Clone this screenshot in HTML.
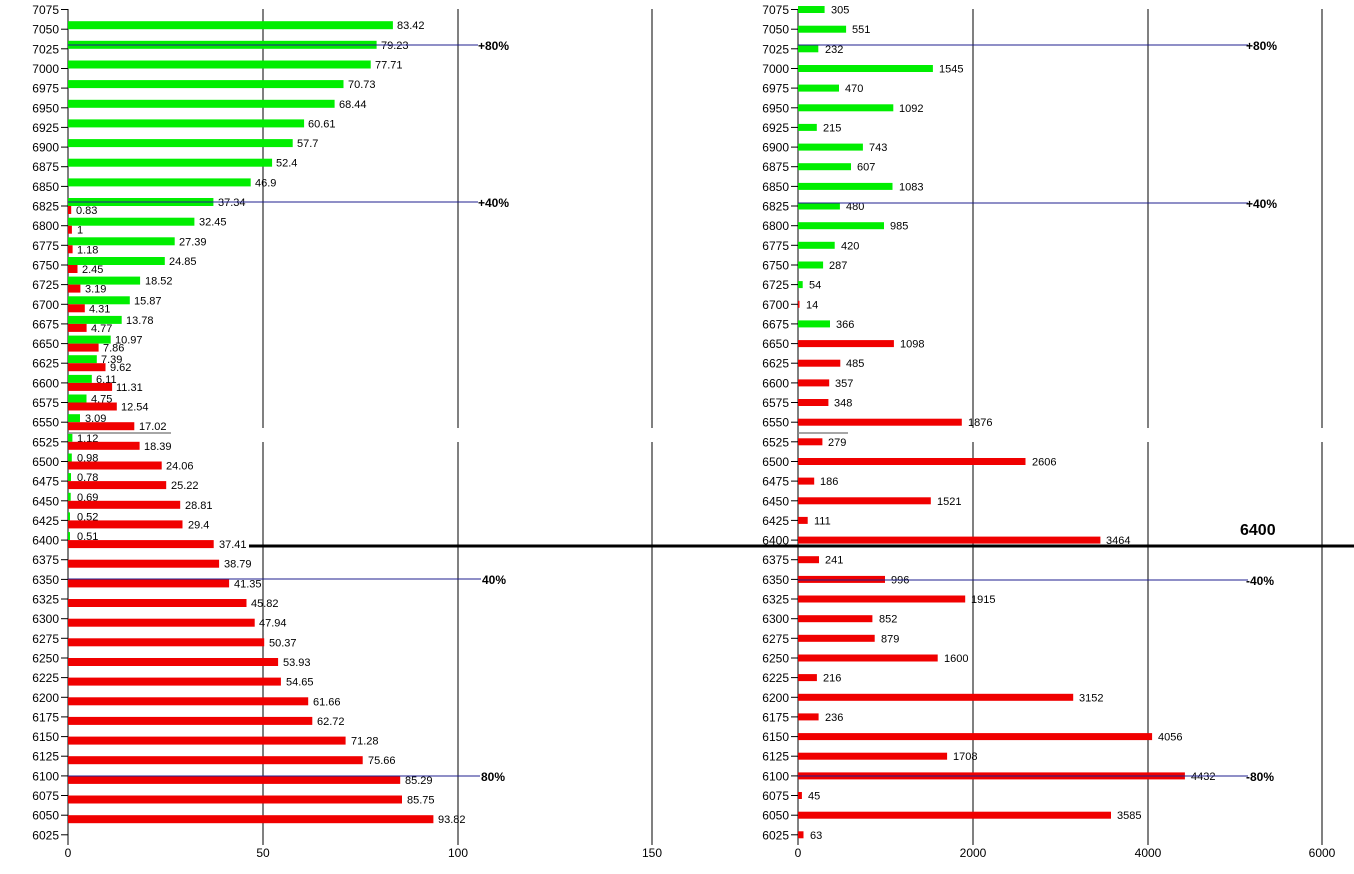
<!DOCTYPE html>
<html><head><meta charset="utf-8"><style>
html,body{margin:0;padding:0;background:#fff;}
svg{display:block;font-family:"Liberation Sans",sans-serif;}
.yl{font-size:12px;text-anchor:end;fill:#000;}
.v{font-size:11px;fill:#000;}
.g{fill:#00ee00;}
.r{fill:#f00000;}
.tk{stroke:#000;stroke-width:1;}
.pc{font-size:12px;font-weight:bold;fill:#000;}
</style></head><body>
<svg width="1354" height="874" viewBox="0 0 1354 874" xmlns="http://www.w3.org/2000/svg">
<rect width="1354" height="874" fill="#fff"/>
<!-- gridlines -->
<g stroke="#000" stroke-width="1">
<line x1="263" y1="9" x2="263" y2="428"/><line x1="263" y1="442" x2="263" y2="845"/>
<line x1="458" y1="9" x2="458" y2="428"/><line x1="458" y1="442" x2="458" y2="845"/>
<line x1="652" y1="9" x2="652" y2="428"/><line x1="652" y1="442" x2="652" y2="845"/>
<line x1="973" y1="9" x2="973" y2="428"/><line x1="973" y1="442" x2="973" y2="845"/>
<line x1="1148" y1="9" x2="1148" y2="428"/><line x1="1148" y1="442" x2="1148" y2="845"/>
<line x1="1322" y1="9" x2="1322" y2="428"/><line x1="1322" y1="442" x2="1322" y2="845"/>
<line x1="68" y1="9" x2="68" y2="845"/>
<line x1="798" y1="9" x2="798" y2="845"/>
</g>
<!-- x labels -->
<g font-size="12" text-anchor="middle" fill="#000">
<text x="68" y="857">0</text><text x="263" y="857">50</text><text x="458" y="857">100</text><text x="652" y="857">150</text>
<text x="798" y="857">0</text><text x="973" y="857">2000</text><text x="1148" y="857">4000</text><text x="1322" y="857">6000</text>
</g>

<!-- LEFT CHART -->
<g transform="translate(68,9.5)"><line class="tk" x1="-7" x2="0" y1="0" y2="0"/><text class="yl" x="-9" y="4.5">7075</text></g>
<g transform="translate(68,29.2)"><line class="tk" x1="-7" x2="0"/><text class="yl" x="-9" y="4.5">7050</text><rect class="g" y="-8" width="324.9" height="8"/><text class="v" x="329" y="0">83.42</text></g>
<g transform="translate(68,48.8)"><line class="tk" x1="-7" x2="0"/><text class="yl" x="-9" y="4.5">7025</text><rect class="g" y="-8" width="308.6" height="8"/><text class="v" x="313" y="0">79.23</text></g>
<g transform="translate(68,68.5)"><line class="tk" x1="-7" x2="0"/><text class="yl" x="-9" y="4.5">7000</text><rect class="g" y="-8" width="302.7" height="8"/><text class="v" x="307" y="0">77.71</text></g>
<g transform="translate(68,88.1)"><line class="tk" x1="-7" x2="0"/><text class="yl" x="-9" y="4.5">6975</text><rect class="g" y="-8" width="275.5" height="8"/><text class="v" x="280" y="0">70.73</text></g>
<g transform="translate(68,107.8)"><line class="tk" x1="-7" x2="0"/><text class="yl" x="-9" y="4.5">6950</text><rect class="g" y="-8" width="266.6" height="8"/><text class="v" x="271" y="0">68.44</text></g>
<g transform="translate(68,127.4)"><line class="tk" x1="-7" x2="0"/><text class="yl" x="-9" y="4.5">6925</text><rect class="g" y="-8" width="236.1" height="8"/><text class="v" x="240" y="0">60.61</text></g>
<g transform="translate(68,147.1)"><line class="tk" x1="-7" x2="0"/><text class="yl" x="-9" y="4.5">6900</text><rect class="g" y="-8" width="224.7" height="8"/><text class="v" x="229" y="0">57.7</text></g>
<g transform="translate(68,166.7)"><line class="tk" x1="-7" x2="0"/><text class="yl" x="-9" y="4.5">6875</text><rect class="g" y="-8" width="204.1" height="8"/><text class="v" x="208" y="0">52.4</text></g>
<g transform="translate(68,186.4)"><line class="tk" x1="-7" x2="0"/><text class="yl" x="-9" y="4.5">6850</text><rect class="g" y="-8" width="182.7" height="8"/><text class="v" x="187" y="0">46.9</text></g>
<g transform="translate(68,206.0)"><line class="tk" x1="-7" x2="0"/><text class="yl" x="-9" y="4.5">6825</text><rect class="g" y="-8" width="145.4" height="8"/><text class="v" x="150" y="0">37.34</text><rect class="r" y="0" width="3.2" height="8"/><text class="v" x="8" y="8">0.83</text></g>
<g transform="translate(68,225.7)"><line class="tk" x1="-7" x2="0"/><text class="yl" x="-9" y="4.5">6800</text><rect class="g" y="-8" width="126.4" height="8"/><text class="v" x="131" y="0">32.45</text><rect class="r" y="0" width="3.9" height="8"/><text class="v" x="9" y="8">1</text></g>
<g transform="translate(68,245.3)"><line class="tk" x1="-7" x2="0"/><text class="yl" x="-9" y="4.5">6775</text><rect class="g" y="-8" width="106.7" height="8"/><text class="v" x="111" y="0">27.39</text><rect class="r" y="0" width="4.6" height="8"/><text class="v" x="9" y="8">1.18</text></g>
<g transform="translate(68,265.0)"><line class="tk" x1="-7" x2="0"/><text class="yl" x="-9" y="4.5">6750</text><rect class="g" y="-8" width="96.8" height="8"/><text class="v" x="101" y="0">24.85</text><rect class="r" y="0" width="9.5" height="8"/><text class="v" x="14" y="8">2.45</text></g>
<g transform="translate(68,284.6)"><line class="tk" x1="-7" x2="0"/><text class="yl" x="-9" y="4.5">6725</text><rect class="g" y="-8" width="72.1" height="8"/><text class="v" x="77" y="0">18.52</text><rect class="r" y="0" width="12.4" height="8"/><text class="v" x="17" y="8">3.19</text></g>
<g transform="translate(68,304.3)"><line class="tk" x1="-7" x2="0"/><text class="yl" x="-9" y="4.5">6700</text><rect class="g" y="-8" width="61.8" height="8"/><text class="v" x="66" y="0">15.87</text><rect class="r" y="0" width="16.8" height="8"/><text class="v" x="21" y="8">4.31</text></g>
<g transform="translate(68,323.9)"><line class="tk" x1="-7" x2="0"/><text class="yl" x="-9" y="4.5">6675</text><rect class="g" y="-8" width="53.7" height="8"/><text class="v" x="58" y="0">13.78</text><rect class="r" y="0" width="18.6" height="8"/><text class="v" x="23" y="8">4.77</text></g>
<g transform="translate(68,343.6)"><line class="tk" x1="-7" x2="0"/><text class="yl" x="-9" y="4.5">6650</text><rect class="g" y="-8" width="42.7" height="8"/><text class="v" x="47" y="0">10.97</text><rect class="r" y="0" width="30.6" height="8"/><text class="v" x="35" y="8">7.86</text></g>
<g transform="translate(68,363.2)"><line class="tk" x1="-7" x2="0"/><text class="yl" x="-9" y="4.5">6625</text><rect class="g" y="-8" width="28.8" height="8"/><text class="v" x="33" y="0">7.39</text><rect class="r" y="0" width="37.5" height="8"/><text class="v" x="42" y="8">9.62</text></g>
<g transform="translate(68,382.9)"><line class="tk" x1="-7" x2="0"/><text class="yl" x="-9" y="4.5">6600</text><rect class="g" y="-8" width="23.8" height="8"/><text class="v" x="28" y="0">6.11</text><rect class="r" y="0" width="44.1" height="8"/><text class="v" x="48" y="8">11.31</text></g>
<g transform="translate(68,402.5)"><line class="tk" x1="-7" x2="0"/><text class="yl" x="-9" y="4.5">6575</text><rect class="g" y="-8" width="18.5" height="8"/><text class="v" x="23" y="0">4.75</text><rect class="r" y="0" width="48.8" height="8"/><text class="v" x="53" y="8">12.54</text></g>
<g transform="translate(68,422.2)"><line class="tk" x1="-7" x2="0"/><text class="yl" x="-9" y="4.5">6550</text><rect class="g" y="-8" width="12.0" height="8"/><text class="v" x="17" y="0">3.09</text><rect class="r" y="0" width="66.3" height="8"/><text class="v" x="71" y="8">17.02</text></g>
<g transform="translate(68,441.8)"><line class="tk" x1="-7" x2="0"/><text class="yl" x="-9" y="4.5">6525</text><rect class="g" y="-8" width="4.4" height="8"/><text class="v" x="9" y="0">1.12</text><rect class="r" y="0" width="71.6" height="8"/><text class="v" x="76" y="8">18.39</text></g>
<g transform="translate(68,461.5)"><line class="tk" x1="-7" x2="0"/><text class="yl" x="-9" y="4.5">6500</text><rect class="g" y="-8" width="3.8" height="8"/><text class="v" x="9" y="0">0.98</text><rect class="r" y="0" width="93.7" height="8"/><text class="v" x="98" y="8">24.06</text></g>
<g transform="translate(68,481.1)"><line class="tk" x1="-7" x2="0"/><text class="yl" x="-9" y="4.5">6475</text><rect class="g" y="-8" width="3.0" height="8"/><text class="v" x="9" y="0">0.78</text><rect class="r" y="0" width="98.2" height="8"/><text class="v" x="103" y="8">25.22</text></g>
<g transform="translate(68,500.8)"><line class="tk" x1="-7" x2="0"/><text class="yl" x="-9" y="4.5">6450</text><rect class="g" y="-8" width="2.7" height="8"/><text class="v" x="9" y="0">0.69</text><rect class="r" y="0" width="112.2" height="8"/><text class="v" x="117" y="8">28.81</text></g>
<g transform="translate(68,520.4)"><line class="tk" x1="-7" x2="0"/><text class="yl" x="-9" y="4.5">6425</text><rect class="g" y="-8" width="2.0" height="8"/><text class="v" x="9" y="0">0.52</text><rect class="r" y="0" width="114.5" height="8"/><text class="v" x="120" y="8">29.4</text></g>
<g transform="translate(68,540.1)"><line class="tk" x1="-7" x2="0"/><text class="yl" x="-9" y="4.5">6400</text><rect class="g" y="-8" width="2.0" height="8"/><text class="v" x="9" y="0">0.51</text><rect class="r" y="0" width="145.7" height="8"/><text class="v" x="151" y="8">37.41</text></g>
<g transform="translate(68,559.7)"><line class="tk" x1="-7" x2="0"/><text class="yl" x="-9" y="4.5">6375</text><rect class="r" y="0" width="151.1" height="8"/><text class="v" x="156" y="8">38.79</text></g>
<g transform="translate(68,579.4)"><line class="tk" x1="-7" x2="0"/><text class="yl" x="-9" y="4.5">6350</text><rect class="r" y="0" width="161.1" height="8"/><text class="v" x="166" y="8">41.35</text></g>
<g transform="translate(68,599.0)"><line class="tk" x1="-7" x2="0"/><text class="yl" x="-9" y="4.5">6325</text><rect class="r" y="0" width="178.5" height="8"/><text class="v" x="183" y="8">45.82</text></g>
<g transform="translate(68,618.7)"><line class="tk" x1="-7" x2="0"/><text class="yl" x="-9" y="4.5">6300</text><rect class="r" y="0" width="186.7" height="8"/><text class="v" x="191" y="8">47.94</text></g>
<g transform="translate(68,638.3)"><line class="tk" x1="-7" x2="0"/><text class="yl" x="-9" y="4.5">6275</text><rect class="r" y="0" width="196.2" height="8"/><text class="v" x="201" y="8">50.37</text></g>
<g transform="translate(68,658.0)"><line class="tk" x1="-7" x2="0"/><text class="yl" x="-9" y="4.5">6250</text><rect class="r" y="0" width="210.1" height="8"/><text class="v" x="215" y="8">53.93</text></g>
<g transform="translate(68,677.6)"><line class="tk" x1="-7" x2="0"/><text class="yl" x="-9" y="4.5">6225</text><rect class="r" y="0" width="212.9" height="8"/><text class="v" x="218" y="8">54.65</text></g>
<g transform="translate(68,697.3)"><line class="tk" x1="-7" x2="0"/><text class="yl" x="-9" y="4.5">6200</text><rect class="r" y="0" width="240.2" height="8"/><text class="v" x="245" y="8">61.66</text></g>
<g transform="translate(68,716.9)"><line class="tk" x1="-7" x2="0"/><text class="yl" x="-9" y="4.5">6175</text><rect class="r" y="0" width="244.3" height="8"/><text class="v" x="249" y="8">62.72</text></g>
<g transform="translate(68,736.6)"><line class="tk" x1="-7" x2="0"/><text class="yl" x="-9" y="4.5">6150</text><rect class="r" y="0" width="277.6" height="8"/><text class="v" x="283" y="8">71.28</text></g>
<g transform="translate(68,756.2)"><line class="tk" x1="-7" x2="0"/><text class="yl" x="-9" y="4.5">6125</text><rect class="r" y="0" width="294.7" height="8"/><text class="v" x="300" y="8">75.66</text></g>
<g transform="translate(68,775.9)"><line class="tk" x1="-7" x2="0"/><text class="yl" x="-9" y="4.5">6100</text><rect class="r" y="0" width="332.2" height="8"/><text class="v" x="337" y="8">85.29</text></g>
<g transform="translate(68,795.5)"><line class="tk" x1="-7" x2="0"/><text class="yl" x="-9" y="4.5">6075</text><rect class="r" y="0" width="334.0" height="8"/><text class="v" x="339" y="8">85.75</text></g>
<g transform="translate(68,815.2)"><line class="tk" x1="-7" x2="0"/><text class="yl" x="-9" y="4.5">6050</text><rect class="r" y="0" width="365.4" height="8"/><text class="v" x="370" y="8">93.82</text></g>
<g transform="translate(68,834.8)"><line class="tk" x1="-7" x2="0"/><text class="yl" x="-9" y="4.5">6025</text></g>

<!-- RIGHT CHART -->
<g transform="translate(798,9.5)"><line class="tk" x1="-7" x2="0"/><text class="yl" x="-9" y="4.5">7075</text><rect class="g" y="-3.5" width="26.6" height="7"/><text class="v" x="33" y="4">305</text></g>
<g transform="translate(798,29.2)"><line class="tk" x1="-7" x2="0"/><text class="yl" x="-9" y="4.5">7050</text><rect class="g" y="-3.5" width="48.1" height="7"/><text class="v" x="54" y="4">551</text></g>
<g transform="translate(798,48.8)"><line class="tk" x1="-7" x2="0"/><text class="yl" x="-9" y="4.5">7025</text><rect class="g" y="-3.5" width="20.3" height="7"/><text class="v" x="27" y="4">232</text></g>
<g transform="translate(798,68.5)"><line class="tk" x1="-7" x2="0"/><text class="yl" x="-9" y="4.5">7000</text><rect class="g" y="-3.5" width="134.9" height="7"/><text class="v" x="141" y="4">1545</text></g>
<g transform="translate(798,88.1)"><line class="tk" x1="-7" x2="0"/><text class="yl" x="-9" y="4.5">6975</text><rect class="g" y="-3.5" width="41.0" height="7"/><text class="v" x="47" y="4">470</text></g>
<g transform="translate(798,107.8)"><line class="tk" x1="-7" x2="0"/><text class="yl" x="-9" y="4.5">6950</text><rect class="g" y="-3.5" width="95.3" height="7"/><text class="v" x="101" y="4">1092</text></g>
<g transform="translate(798,127.4)"><line class="tk" x1="-7" x2="0"/><text class="yl" x="-9" y="4.5">6925</text><rect class="g" y="-3.5" width="18.8" height="7"/><text class="v" x="25" y="4">215</text></g>
<g transform="translate(798,147.1)"><line class="tk" x1="-7" x2="0"/><text class="yl" x="-9" y="4.5">6900</text><rect class="g" y="-3.5" width="64.9" height="7"/><text class="v" x="71" y="4">743</text></g>
<g transform="translate(798,166.7)"><line class="tk" x1="-7" x2="0"/><text class="yl" x="-9" y="4.5">6875</text><rect class="g" y="-3.5" width="53.0" height="7"/><text class="v" x="59" y="4">607</text></g>
<g transform="translate(798,186.4)"><line class="tk" x1="-7" x2="0"/><text class="yl" x="-9" y="4.5">6850</text><rect class="g" y="-3.5" width="94.5" height="7"/><text class="v" x="101" y="4">1083</text></g>
<g transform="translate(798,206.0)"><line class="tk" x1="-7" x2="0"/><text class="yl" x="-9" y="4.5">6825</text><rect class="g" y="-3.5" width="41.9" height="7"/><text class="v" x="48" y="4">480</text></g>
<g transform="translate(798,225.7)"><line class="tk" x1="-7" x2="0"/><text class="yl" x="-9" y="4.5">6800</text><rect class="g" y="-3.5" width="86.0" height="7"/><text class="v" x="92" y="4">985</text></g>
<g transform="translate(798,245.3)"><line class="tk" x1="-7" x2="0"/><text class="yl" x="-9" y="4.5">6775</text><rect class="g" y="-3.5" width="36.7" height="7"/><text class="v" x="43" y="4">420</text></g>
<g transform="translate(798,265.0)"><line class="tk" x1="-7" x2="0"/><text class="yl" x="-9" y="4.5">6750</text><rect class="g" y="-3.5" width="25.1" height="7"/><text class="v" x="31" y="4">287</text></g>
<g transform="translate(798,284.6)"><line class="tk" x1="-7" x2="0"/><text class="yl" x="-9" y="4.5">6725</text><rect class="g" y="-3.5" width="4.7" height="7"/><text class="v" x="11" y="4">54</text></g>
<g transform="translate(798,304.3)"><line class="tk" x1="-7" x2="0"/><text class="yl" x="-9" y="4.5">6700</text><rect class="r" y="-3.5" width="1.5" height="7"/><text class="v" x="8" y="4">14</text></g>
<g transform="translate(798,323.9)"><line class="tk" x1="-7" x2="0"/><text class="yl" x="-9" y="4.5">6675</text><rect class="g" y="-3.5" width="32.0" height="7"/><text class="v" x="38" y="4">366</text></g>
<g transform="translate(798,343.6)"><line class="tk" x1="-7" x2="0"/><text class="yl" x="-9" y="4.5">6650</text><rect class="r" y="-3.5" width="95.9" height="7"/><text class="v" x="102" y="4">1098</text></g>
<g transform="translate(798,363.2)"><line class="tk" x1="-7" x2="0"/><text class="yl" x="-9" y="4.5">6625</text><rect class="r" y="-3.5" width="42.3" height="7"/><text class="v" x="48" y="4">485</text></g>
<g transform="translate(798,382.9)"><line class="tk" x1="-7" x2="0"/><text class="yl" x="-9" y="4.5">6600</text><rect class="r" y="-3.5" width="31.2" height="7"/><text class="v" x="37" y="4">357</text></g>
<g transform="translate(798,402.5)"><line class="tk" x1="-7" x2="0"/><text class="yl" x="-9" y="4.5">6575</text><rect class="r" y="-3.5" width="30.4" height="7"/><text class="v" x="36" y="4">348</text></g>
<g transform="translate(798,422.2)"><line class="tk" x1="-7" x2="0"/><text class="yl" x="-9" y="4.5">6550</text><rect class="r" y="-3.5" width="163.8" height="7"/><text class="v" x="170" y="4">1876</text></g>
<g transform="translate(798,441.8)"><line class="tk" x1="-7" x2="0"/><text class="yl" x="-9" y="4.5">6525</text><rect class="r" y="-3.5" width="24.4" height="7"/><text class="v" x="30" y="4">279</text></g>
<g transform="translate(798,461.5)"><line class="tk" x1="-7" x2="0"/><text class="yl" x="-9" y="4.5">6500</text><rect class="r" y="-3.5" width="227.5" height="7"/><text class="v" x="234" y="4">2606</text></g>
<g transform="translate(798,481.1)"><line class="tk" x1="-7" x2="0"/><text class="yl" x="-9" y="4.5">6475</text><rect class="r" y="-3.5" width="16.2" height="7"/><text class="v" x="22" y="4">186</text></g>
<g transform="translate(798,500.8)"><line class="tk" x1="-7" x2="0"/><text class="yl" x="-9" y="4.5">6450</text><rect class="r" y="-3.5" width="132.8" height="7"/><text class="v" x="139" y="4">1521</text></g>
<g transform="translate(798,520.4)"><line class="tk" x1="-7" x2="0"/><text class="yl" x="-9" y="4.5">6425</text><rect class="r" y="-3.5" width="9.7" height="7"/><text class="v" x="16" y="4">111</text></g>
<g transform="translate(798,540.1)"><line class="tk" x1="-7" x2="0"/><text class="yl" x="-9" y="4.5">6400</text><rect class="r" y="-3.5" width="302.4" height="7"/><text class="v" x="308" y="4">3464</text></g>
<g transform="translate(798,559.7)"><line class="tk" x1="-7" x2="0"/><text class="yl" x="-9" y="4.5">6375</text><rect class="r" y="-3.5" width="21.0" height="7"/><text class="v" x="27" y="4">241</text></g>
<g transform="translate(798,579.4)"><line class="tk" x1="-7" x2="0"/><text class="yl" x="-9" y="4.5">6350</text><rect class="r" y="-3.5" width="87.0" height="7"/><text class="v" x="93" y="4">996</text></g>
<g transform="translate(798,599.0)"><line class="tk" x1="-7" x2="0"/><text class="yl" x="-9" y="4.5">6325</text><rect class="r" y="-3.5" width="167.2" height="7"/><text class="v" x="173" y="4">1915</text></g>
<g transform="translate(798,618.7)"><line class="tk" x1="-7" x2="0"/><text class="yl" x="-9" y="4.5">6300</text><rect class="r" y="-3.5" width="74.4" height="7"/><text class="v" x="81" y="4">852</text></g>
<g transform="translate(798,638.3)"><line class="tk" x1="-7" x2="0"/><text class="yl" x="-9" y="4.5">6275</text><rect class="r" y="-3.5" width="76.7" height="7"/><text class="v" x="83" y="4">879</text></g>
<g transform="translate(798,658.0)"><line class="tk" x1="-7" x2="0"/><text class="yl" x="-9" y="4.5">6250</text><rect class="r" y="-3.5" width="139.7" height="7"/><text class="v" x="146" y="4">1600</text></g>
<g transform="translate(798,677.6)"><line class="tk" x1="-7" x2="0"/><text class="yl" x="-9" y="4.5">6225</text><rect class="r" y="-3.5" width="18.9" height="7"/><text class="v" x="25" y="4">216</text></g>
<g transform="translate(798,697.3)"><line class="tk" x1="-7" x2="0"/><text class="yl" x="-9" y="4.5">6200</text><rect class="r" y="-3.5" width="275.2" height="7"/><text class="v" x="281" y="4">3152</text></g>
<g transform="translate(798,716.9)"><line class="tk" x1="-7" x2="0"/><text class="yl" x="-9" y="4.5">6175</text><rect class="r" y="-3.5" width="20.6" height="7"/><text class="v" x="27" y="4">236</text></g>
<g transform="translate(798,736.6)"><line class="tk" x1="-7" x2="0"/><text class="yl" x="-9" y="4.5">6150</text><rect class="r" y="-3.5" width="354.1" height="7"/><text class="v" x="360" y="4">4056</text></g>
<g transform="translate(798,756.2)"><line class="tk" x1="-7" x2="0"/><text class="yl" x="-9" y="4.5">6125</text><rect class="r" y="-3.5" width="149.1" height="7"/><text class="v" x="155" y="4">1708</text></g>
<g transform="translate(798,775.9)"><line class="tk" x1="-7" x2="0"/><text class="yl" x="-9" y="4.5">6100</text><rect class="r" y="-3.5" width="386.9" height="7"/><text class="v" x="393" y="4">4432</text></g>
<g transform="translate(798,795.5)"><line class="tk" x1="-7" x2="0"/><text class="yl" x="-9" y="4.5">6075</text><rect class="r" y="-3.5" width="3.9" height="7"/><text class="v" x="10" y="4">45</text></g>
<g transform="translate(798,815.2)"><line class="tk" x1="-7" x2="0"/><text class="yl" x="-9" y="4.5">6050</text><rect class="r" y="-3.5" width="313.0" height="7"/><text class="v" x="319" y="4">3585</text></g>
<g transform="translate(798,834.8)"><line class="tk" x1="-7" x2="0"/><text class="yl" x="-9" y="4.5">6025</text><rect class="r" y="-3.5" width="5.5" height="7"/><text class="v" x="12" y="4">63</text></g>

<!-- percent lines -->
<g stroke="#1f1f8f" stroke-width="1">
<line x1="68" y1="45" x2="478" y2="45"/>
<line x1="68" y1="202" x2="478" y2="202"/>
<line x1="68" y1="579" x2="481" y2="579"/>
<line x1="68" y1="776" x2="480" y2="776"/>
<line x1="798" y1="45" x2="1248" y2="45"/>
<line x1="798" y1="203" x2="1248" y2="203"/>
<line x1="798" y1="580" x2="1248" y2="580"/>
<line x1="798" y1="776" x2="1248" y2="776"/>
</g>
<text class="pc" x="478" y="50">+80%</text>
<text class="pc" x="478" y="207">+40%</text>
<text class="pc" x="482" y="584">40%</text>
<text class="pc" x="481" y="781">80%</text>
<text class="pc" x="1246" y="50">+80%</text>
<text class="pc" x="1246" y="208">+40%</text>
<text class="pc" x="1246" y="585">-40%</text>
<text class="pc" x="1246" y="781">-80%</text>

<!-- gray lines -->
<line x1="68" y1="433" x2="171" y2="433" stroke="#888" stroke-width="1.5"/>
<line x1="798" y1="433" x2="848" y2="433" stroke="#888" stroke-width="1.5"/>
<!-- thick 6400 line -->
<line x1="249" y1="546" x2="1354" y2="546" stroke="#000" stroke-width="3"/>
<text x="1240" y="535" font-size="16" font-weight="bold" fill="#000">6400</text>
</svg>
</body></html>
